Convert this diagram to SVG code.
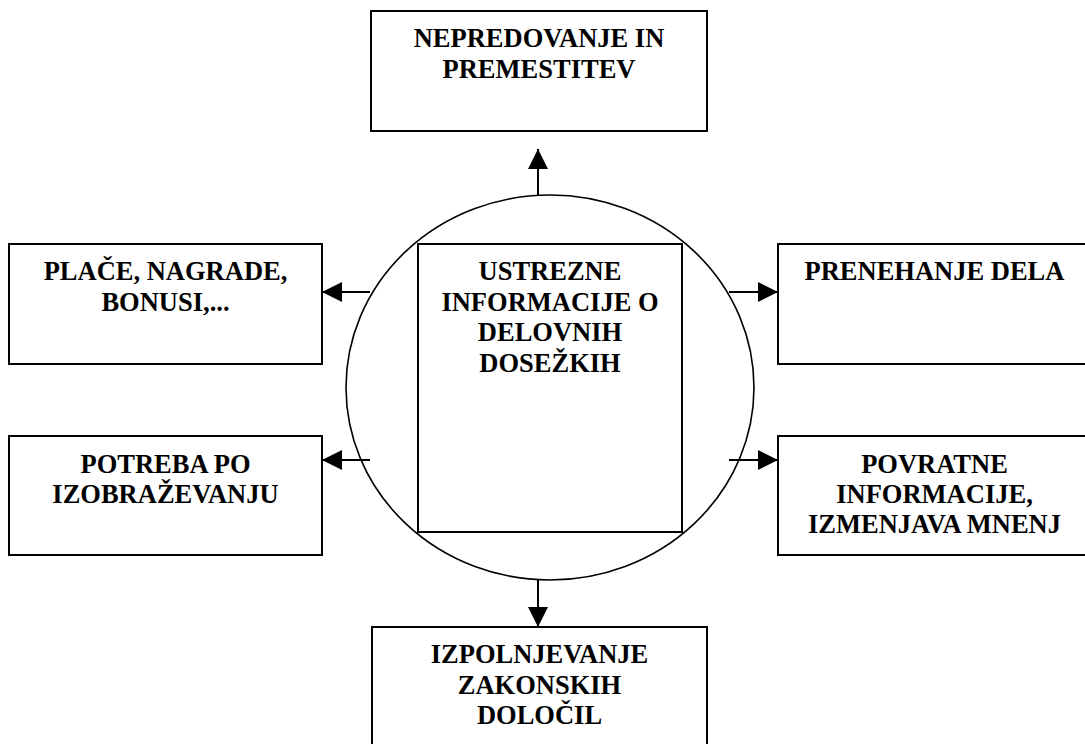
<svg xmlns="http://www.w3.org/2000/svg" width="1085" height="744" viewBox="0 0 1085 744">
  <defs>
    <marker id="arrow" viewBox="0 0 20 20" refX="20" refY="10" markerWidth="20" markerHeight="20" markerUnits="userSpaceOnUse" orient="auto">
      <path d="M0,0 L20,10 L0,20 Z" fill="#000"/>
    </marker>
    <style>
      .box { fill: #fff; stroke: #000; stroke-width: 2; }
      .hub { fill: #fff; stroke: #000; stroke-width: 1.6; }
      .lbl { font-family: "Liberation Serif", "Times New Roman", serif; font-weight: bold; font-size: 26.5px; fill: #000; text-anchor: middle; }
      .conn { stroke: #000; stroke-width: 2; fill: none; marker-end: url(#arrow); }
    </style>
  </defs>
  <rect width="1085" height="744" fill="#fff"/>

  <!-- central hub: ellipse with inner square -->
  <g id="hub">
    <ellipse class="hub" cx="550" cy="387.5" rx="204" ry="192.5"/>
    <rect class="box" x="418" y="244" width="264" height="288"/>
    <text class="lbl" x="550" y="280">USTREZNE</text>
    <text class="lbl" x="550" y="311">INFORMACIJE O</text>
    <text class="lbl" x="550" y="341">DELOVNIH</text>
    <text class="lbl" x="550" y="372">DOSEŽKIH</text>
  </g>

  <g id="top">
    <rect class="box" x="371" y="11" width="336" height="120"/>
    <text class="lbl" x="539" y="47">NEPREDOVANJE IN</text>
    <text class="lbl" x="539" y="78">PREMESTITEV</text>
  </g>

  <g id="left-upper">
    <rect class="box" x="9" y="244" width="313" height="120"/>
    <text class="lbl" x="165.5" y="280">PLAČE, NAGRADE,</text>
    <text class="lbl" x="165.5" y="311">BONUSI,...</text>
  </g>

  <g id="left-lower">
    <rect class="box" x="9" y="436" width="313" height="119"/>
    <text class="lbl" x="165.5" y="473">POTREBA PO</text>
    <text class="lbl" x="165.5" y="503">IZOBRAŽEVANJU</text>
  </g>

  <g id="right-upper">
    <rect class="box" x="778" y="244" width="313" height="120"/>
    <text class="lbl" x="934.5" y="280">PRENEHANJE DELA</text>
  </g>

  <g id="right-lower">
    <rect class="box" x="778" y="436" width="313" height="119"/>
    <text class="lbl" x="934.5" y="473">POVRATNE</text>
    <text class="lbl" x="934.5" y="503">INFORMACIJE,</text>
    <text class="lbl" x="934.5" y="533">IZMENJAVA MNENJ</text>
  </g>

  <g id="bottom">
    <rect class="box" x="372" y="627" width="335" height="130"/>
    <text class="lbl" x="539.5" y="663">IZPOLNJEVANJE</text>
    <text class="lbl" x="539.5" y="694">ZAKONSKIH</text>
    <text class="lbl" x="539.5" y="724">DOLOČIL</text>
  </g>

  <g id="connectors">
    <line class="conn" x1="538" y1="195" x2="538" y2="149"/>
    <line class="conn" x1="538" y1="580" x2="538" y2="627"/>
    <line class="conn" x1="370" y1="292" x2="322" y2="292"/>
    <line class="conn" x1="370" y1="460" x2="322" y2="460"/>
    <line class="conn" x1="729" y1="292" x2="778" y2="292"/>
    <line class="conn" x1="729" y1="460" x2="778" y2="460"/>
  </g>
</svg>
